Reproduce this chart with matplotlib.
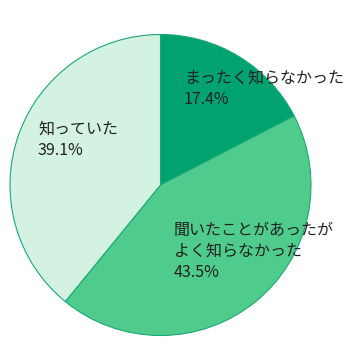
import matplotlib
matplotlib.use("Agg")
import matplotlib.pyplot as plt

plt.rcParams['font.family'] = ['Noto Sans CJK JP', 'DejaVu Sans']

categories = ["まったく知らなかった", "聞いたことがあったが\nよく知らなかった", "知っていた"]
values = [17.4, 43.5, 39.1]
pct_labels = ["17.4%", "43.5%", "39.1%"]
colors = ["#00a36f", "#4fcb8b", "#d3f2e2"]

W, H = 352, 344
fig = plt.figure(figsize=(W / 100, H / 100), dpi=100)
ax = fig.add_axes([0, 0, 1, 1])

cx, cy, r = 160.5, H - 185, 150.5
ax.pie(values, colors=colors, startangle=90, counterclock=False,
       center=(cx, cy), radius=r,
       wedgeprops=dict(edgecolor="#1aa877", linewidth=0.8))
ax.set_xlim(0, W)
ax.set_ylim(0, H)
ax.set_aspect('equal')
ax.axis('off')

label_pos = [(184, 70), (174, 222), (38, 121)]
for cat, pct, (x, y) in zip(categories, pct_labels, label_pos):
    ax.text(x, H - y, cat + "\n" + pct, ha='left', va='top', fontsize=11.5,
            color="#222222", linespacing=1.29)

fig.savefig("out.png", dpi=100)
